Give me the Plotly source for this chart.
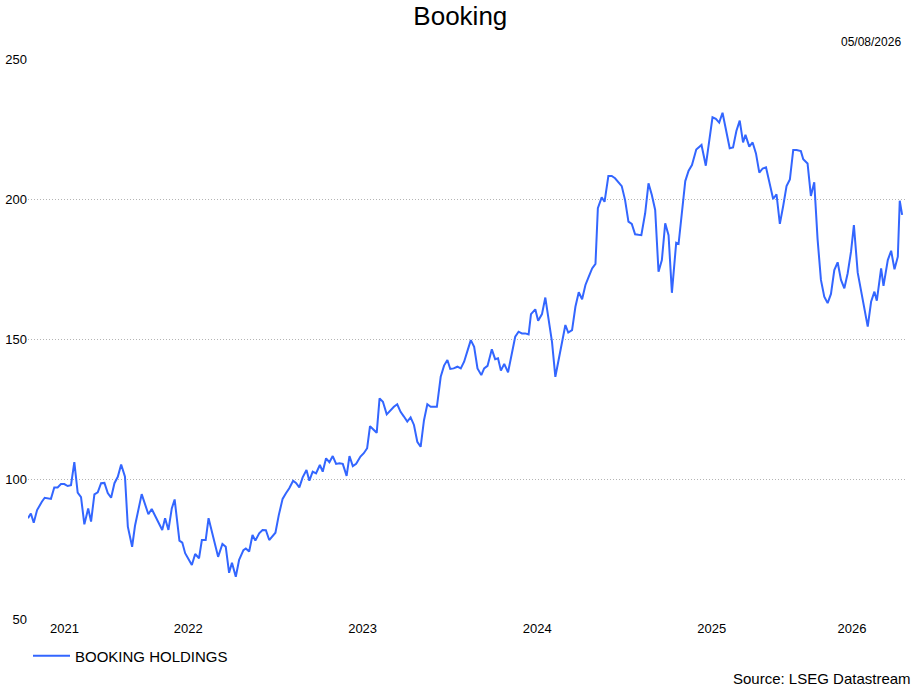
import pandas as pd
import plotly.graph_objects as go

# weekly closes
dates = [
    "2021-08-01", "2021-08-07", "2021-08-13", "2021-08-20", "2021-08-30", "2021-09-05",
    "2021-09-18", "2021-09-25", "2021-10-02", "2021-10-09", "2021-10-16", "2021-10-23",
    "2021-10-30", "2021-11-06", "2021-11-13", "2021-11-20", "2021-11-27", "2021-12-05",
    "2021-12-11", "2021-12-18", "2021-12-25", "2022-01-01", "2022-01-08", "2022-01-15",
    "2022-01-22", "2022-01-29", "2022-02-05", "2022-02-12", "2022-02-20", "2022-02-26",
    "2022-03-07", "2022-03-13", "2022-03-27", "2022-04-10", "2022-04-17", "2022-04-27",
    "2022-05-09", "2022-05-15", "2022-05-22", "2022-05-29", "2022-06-04", "2022-06-14",
    "2022-06-20", "2022-06-26", "2022-07-03", "2022-07-10", "2022-07-17", "2022-07-25",
    "2022-07-31", "2022-08-08", "2022-08-14", "2022-08-24", "2022-09-03", "2022-09-12",
    "2022-09-19", "2022-09-26", "2022-10-02", "2022-10-10", "2022-10-17", "2022-10-26",
    "2022-10-31", "2022-11-07", "2022-11-14", "2022-11-20", "2022-11-28", "2022-12-05",
    "2022-12-12", "2022-12-19", "2022-12-26", "2023-01-01", "2023-01-08", "2023-01-16",
    "2023-01-23", "2023-01-30", "2023-02-07", "2023-02-13", "2023-02-20", "2023-02-27",
    "2023-03-07", "2023-03-13", "2023-03-20", "2023-03-27", "2023-04-04", "2023-04-10",
    "2023-04-17", "2023-04-24", "2023-05-01", "2023-05-08", "2023-05-15", "2023-05-22",
    "2023-05-30", "2023-06-05", "2023-06-12", "2023-06-19", "2023-06-28", "2023-07-05",
    "2023-07-12", "2023-07-18", "2023-07-25", "2023-08-01", "2023-08-07", "2023-08-14",
    "2023-08-22", "2023-08-29", "2023-09-06", "2023-09-13", "2023-09-20", "2023-09-27",
    "2023-10-04", "2023-10-11", "2023-10-18", "2023-10-25", "2023-11-01", "2023-11-08",
    "2023-11-15", "2023-11-22", "2023-11-28", "2023-12-05", "2023-12-13", "2023-12-20",
    "2023-12-27", "2024-01-02", "2024-01-09", "2024-01-17", "2024-01-24", "2024-01-31",
    "2024-02-08", "2024-02-14", "2024-02-21", "2024-02-28", "2024-03-07", "2024-03-13",
    "2024-03-20", "2024-03-29", "2024-04-05", "2024-04-11", "2024-04-17", "2024-04-24",
    "2024-05-02", "2024-05-10", "2024-05-17", "2024-05-24", "2024-05-31", "2024-06-07",
    "2024-06-14", "2024-06-19", "2024-06-28", "2024-07-04", "2024-07-12", "2024-07-19",
    "2024-07-26", "2024-08-02", "2024-08-09", "2024-08-16", "2024-08-23", "2024-08-30",
    "2024-09-05", "2024-09-13", "2024-09-20", "2024-09-27", "2024-10-04", "2024-10-11",
    "2024-10-18", "2024-10-25", "2024-11-01", "2024-11-06", "2024-11-14", "2024-11-20",
    "2024-11-28", "2024-12-05", "2024-12-12", "2024-12-19", "2024-12-26", "2025-01-02",
    "2025-01-09", "2025-01-16", "2025-01-23", "2025-01-30", "2025-02-05", "2025-02-13",
    "2025-02-20", "2025-02-27", "2025-03-06", "2025-03-13", "2025-03-20", "2025-03-27",
    "2025-04-03", "2025-04-10", "2025-04-19", "2025-04-24", "2025-05-01", "2025-05-08",
    "2025-05-15", "2025-05-22", "2025-05-31", "2025-06-06", "2025-06-11", "2025-06-20",
    "2025-06-27", "2025-07-04", "2025-07-11", "2025-07-18", "2025-07-25", "2025-08-01",
    "2025-08-09", "2025-08-16", "2025-08-23", "2025-08-30", "2025-09-06", "2025-09-11",
    "2025-09-19", "2025-09-26", "2025-10-03", "2025-10-10", "2025-10-17", "2025-10-24",
    "2025-10-31", "2025-11-08", "2025-11-15", "2025-11-22", "2025-11-29", "2025-12-06",
    "2025-12-13", "2025-12-20", "2025-12-27", "2026-01-05", "2026-01-10", "2026-01-19",
    "2026-01-26", "2026-02-02", "2026-02-09", "2026-02-16", "2026-02-23", "2026-03-02",
    "2026-03-09", "2026-03-16", "2026-03-23", "2026-03-30", "2026-04-06", "2026-04-13",
    "2026-04-20", "2026-04-26", "2026-05-04", "2026-05-11", "2026-05-18", "2026-05-25",
    "2026-06-01", "2026-06-08", "2026-06-13", "2026-06-22", "2026-06-27", "2026-07-06",
    "2026-07-13", "2026-07-20", "2026-07-27", "2026-07-31", "2026-08-05",
]

booking = [
    86.0, 87.7, 84.4, 88.9, 91.9, 93.3,
    92.9, 97.0, 97.0, 98.2, 98.2, 97.5,
    97.8, 106.0, 95.1, 93.5, 83.8, 89.5,
    84.8, 94.5, 95.2, 98.5, 98.6, 95.0,
    93.3, 98.5, 100.8, 105.2, 100.8, 83.0,
    75.8, 83.3, 94.6, 87.4, 89.3, 86.0,
    81.8, 86.0, 81.8, 89.5, 92.7, 78.0,
    77.3, 73.5, 71.2, 69.3, 73.2, 71.7,
    78.2, 78.2, 86.0, 79.4, 72.2, 76.8,
    75.8, 66.5, 70.1, 65.1, 71.1, 74.6,
    75.2, 74.1, 80.0, 78.0, 80.6, 81.8,
    81.7, 78.2, 79.5, 80.8, 87.1, 92.9,
    94.9, 96.7, 99.4, 98.6, 97.0, 100.6,
    103.2, 99.4, 102.6, 102.0, 105.0, 102.6,
    107.4, 106.0, 108.2, 105.4, 105.6, 105.4,
    101.1, 108.2, 104.6, 105.4, 108.0, 109.2,
    111.0, 118.9, 117.7, 116.5, 128.8, 127.6,
    123.1, 124.4, 125.8, 126.7, 124.0, 122.3,
    120.5, 122.0, 119.3, 113.3, 111.5, 121.0,
    126.7, 125.8, 125.9, 125.8, 136.5, 140.5,
    142.5, 139.3, 139.5, 140.1, 139.5, 141.9,
    146.3, 149.6, 147.2, 139.5, 137.1, 139.5,
    140.4, 146.3, 142.8, 143.1, 138.7, 141.1,
    138.1, 144.9, 150.8, 152.6, 152.0, 152.0,
    151.6, 158.9, 160.6, 156.5, 158.9, 164.8,
    157.0, 149.0, 136.5, 142.5, 149.0, 155.0,
    152.3, 153.2, 161.5, 166.7, 164.2, 169.3,
    172.3, 175.2, 176.8, 196.7, 200.6, 199.0,
    208.2, 208.2, 207.4, 205.8, 204.6, 199.6,
    191.9, 191.1, 187.4, 187.2, 187.1, 194.9,
    205.6, 201.4, 196.1, 174.0, 178.2, 191.3,
    187.1, 166.5, 184.4, 184.0, 194.9, 206.4,
    210.1, 212.1, 217.7, 218.5, 219.3, 211.9,
    221.1, 229.2, 228.6, 227.3, 230.8, 224.6,
    218.1, 218.4, 224.3, 228.0, 220.2, 222.9,
    218.7, 220.2, 216.3, 209.4, 210.9, 211.3,
    205.8, 200.0, 201.7, 191.1, 197.5, 204.6,
    207.0, 217.5, 217.5, 217.1, 214.2, 212.7,
    201.1, 206.0, 185.6, 171.1, 165.1, 162.8,
    166.1, 174.6, 177.4, 171.1, 168.1, 173.5,
    181.2, 190.7, 173.7, 166.9, 160.4, 154.4,
    163.3, 166.9, 163.7, 175.2, 169.0, 178.2,
    181.5, 174.9, 179.4, 199.4, 194.3,
]

y_ticks = [50, 100, 150, 200, 250]
series_name = "BOOKING HOLDINGS"
chart_title = "Booking"
as_of = "05/08/2026"
source = "Source: LSEG Datastream"

FONT = "Liberation Sans, Arial, sans-serif"
LINE = "#3366ff"

d = pd.to_datetime(dates)
x_start = d[0]
x_end = d[-1] + pd.Timedelta(days=6)

# year labels sit in the middle of the visible part of each year
tick_pos, tick_txt = [], []
for yr in range(x_start.year, x_end.year + 1):
    a = max(pd.Timestamp(f"{yr}-01-01"), x_start)
    b = min(pd.Timestamp(f"{yr + 1}-01-01"), x_end)
    tick_pos.append(a + (b - a) / 2)
    tick_txt.append(str(yr))

fig = go.Figure()
fig.add_trace(go.Scatter(
    x=d, y=booking, mode="lines", name=series_name,
    line=dict(color=LINE, width=2),
))

fig.update_layout(
    width=917, height=688,
    margin=dict(l=28, r=12, t=59, b=69, autoexpand=False),
    paper_bgcolor="white", plot_bgcolor="white",
    font=dict(family=FONT, color="#000000", size=12),
    title=dict(text=chart_title, x=0.502, xanchor="center", y=0.99, yanchor="top",
               font=dict(size=26, family=FONT, color="#000000")),
    showlegend=True,
    legend=dict(orientation="h", x=0.0, xanchor="left", y=-0.0365, yanchor="top",
                itemwidth=37, font=dict(size=15, family=FONT),
                bgcolor="rgba(0,0,0,0)"),
    xaxis=dict(range=[x_start, x_end], tickvals=tick_pos, ticktext=tick_txt,
               showgrid=False, zeroline=False, showline=False, ticks="",
               tickfont=dict(size=13)),
    yaxis=dict(range=[50, 250], tickvals=y_ticks, showgrid=True,
               gridcolor="#b4b4b4", griddash="1px,2px", gridwidth=1,
               zeroline=False, showline=False, ticks="", tickfont=dict(size=13)),
    annotations=[
        dict(text=as_of, xref="paper", yref="paper", x=0.998, y=1.03,
             xanchor="right", yanchor="middle", showarrow=False,
             font=dict(size=12, family=FONT)),
        dict(text=source, xref="paper", yref="paper", x=1.009, y=-0.107,
             xanchor="right", yanchor="middle", showarrow=False,
             font=dict(size=15, family=FONT)),
    ],
)

# drop the default 8px page margin so the figure sits flush in the window
fig.write_html("out.html", config={"displayModeBar": False},
               post_script="document.body.style.margin = '0px';")
